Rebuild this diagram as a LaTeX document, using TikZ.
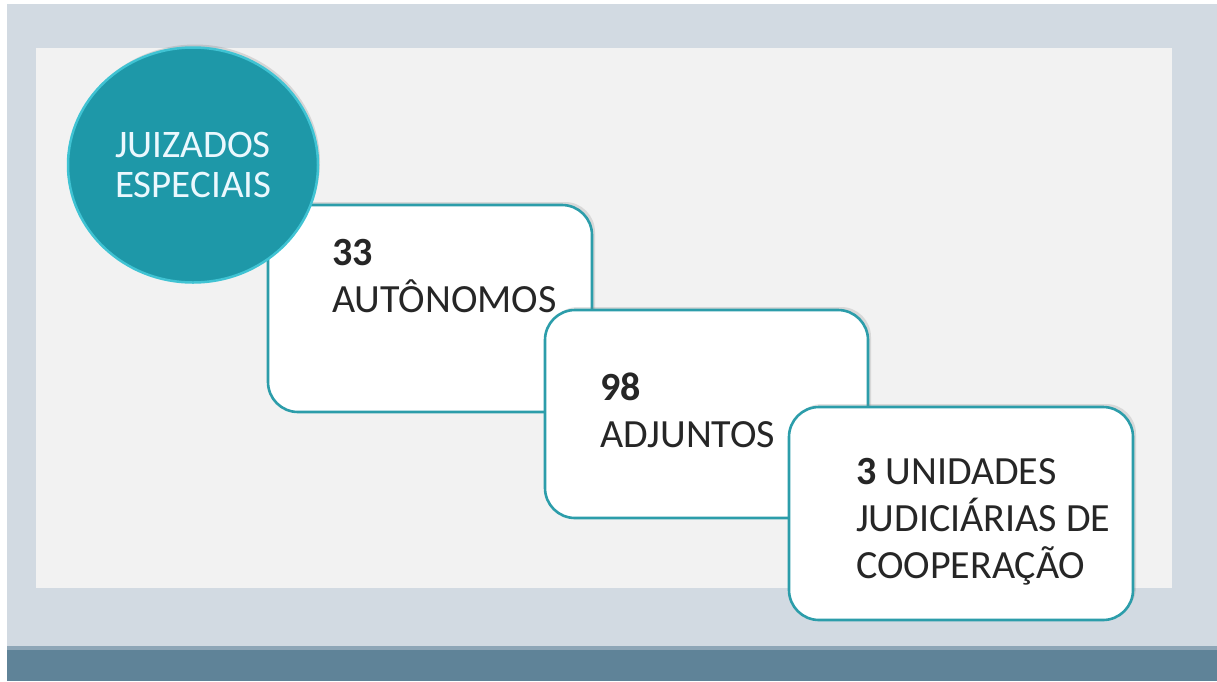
\documentclass[tikz,border=0pt]{standalone}
\usepackage{fontspec}
\setmainfont{Carlito}
\usetikzlibrary{shapes.geometric,shadows}
\definecolor{frameback}{HTML}{D2DAE2}
\definecolor{panelback}{HTML}{F2F2F2}
\definecolor{bandslate}{HTML}{5F8398}
\definecolor{bandline}{HTML}{8EA6B7}
\definecolor{tealfill}{HTML}{1E98A8}
\definecolor{tealrim}{HTML}{40C3D3}
\definecolor{cardedge}{HTML}{2C9DAA}
\def\outerframe{(7,4) rectangle (1217,648)}
\def\innerpanel{(36,48) rectangle (1172,588)}
\def\bottomband{(7,648) rectangle (1217,681)}
\tikzset{card/.style={draw=cardedge, line width=2.6, fill=white, rounded corners=30,
		drop shadow={opacity=0.22, shadow xshift=3, shadow yshift=-3}},
	cardtext/.style={anchor=base west, align=left, inner sep=0, text=black!85,
		font=\fontsize{40}{47}\selectfont},
	badge/.style={ellipse, draw=tealrim, line width=2.5, fill=tealfill,
		drop shadow={opacity=0.25, shadow xshift=2, shadow yshift=-3}}}

\begin{document}
\begin{tikzpicture}[x=1pt,y=-1pt]
		\useasboundingbox (0,0) rectangle (1217,681);
		\fill[frameback] \outerframe;
		\fill[panelback] \innerpanel;
		\fill[bandslate] \bottomband;
		\fill[bandline] (7,646) rectangle (1217,650);
		
		\node[card, minimum width=324, minimum height=207] (autonomos) at (430,308.5) {};
		\node[card, minimum width=323, minimum height=208] (adjuntos) at (706.5,414) {};
		\node[card, minimum width=344, minimum height=213] (cooperacao) at (961,513.5) {};
		\node[badge, minimum width=250, minimum height=235] (juizados) at (193,165) {};
		
		% base anchor sits on the last line
		\node[cardtext] (autonomos text) at (332,312) {\textbf{33}\\AUTÔNOMOS};
		\node[cardtext] (adjuntos text) at (600,447) {\textbf{98}\\ADJUNTOS};
		\node[cardtext] (cooperacao text) at (856,578) {\textbf{3} UNIDADES\\JUDICIÁRIAS DE\\COOPERAÇÃO};
		\node[cardtext, text=cyan!8, font=\fontsize{39}{40}\selectfont] (juizados text) at (115,197) {JUIZADOS\\ESPECIAIS};
		\end{tikzpicture}
\end{document}
